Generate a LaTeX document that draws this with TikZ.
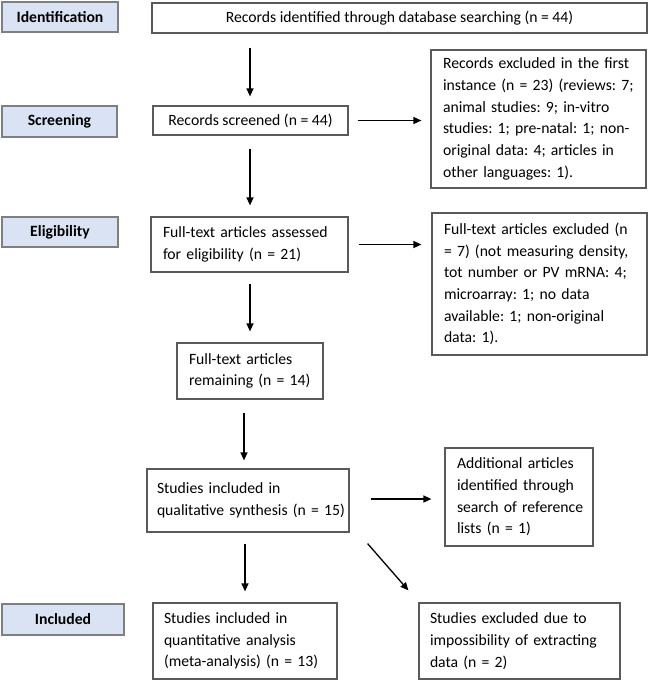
\documentclass[tikz,border=0pt]{standalone}
\usepackage{fontspec}
\setmainfont{Carlito}
\usetikzlibrary{arrows.meta,calc}
\definecolor{lblfill}{HTML}{DAE3F3}
\definecolor{lbldraw}{HTML}{7F7F7F}
\definecolor{boxdraw}{HTML}{5A5A5A}
\newcommand{\myline}[1]{\mbox{#1}}
\newcommand{\boxfont}{\fontsize{15.7}{21.7}\selectfont}
\frenchspacing
\hyphenpenalty=10000
\tikzset{
  lbl/.style={draw=lbldraw, fill=lblfill, line width=1.2pt, font=\boxfont\bfseries, inner sep=0pt, anchor=center},
  fbox/.style={draw=boxdraw, line width=1.2pt, font=\boxfont, inner sep=0pt, anchor=center},
  arr/.style={line width=1.3pt, -{Triangle[length=8pt,width=7pt]}},
}
\begin{document}
\begin{tikzpicture}[x=1pt,y=-1pt]
\useasboundingbox (0,0) rectangle (650,681);
% stage labels
\node[lbl, minimum width=116pt, minimum height=30pt] (lid) at (60,17) {Identification};
\node[lbl, minimum width=115pt, minimum height=31pt] (lscr) at (59.5,121.5) {Screening};
\node[lbl, minimum width=116pt, minimum height=30pt] (lel) at (60,232) {Eligibility};
\node[lbl, minimum width=122pt, minimum height=31pt] (linc) at (63,619.5) {Included};
% boxes
\node[fbox, minimum width=495pt, minimum height=30pt] (top) at (399.5,18) {Records identified through database searching (n = 44)};
\node[fbox, minimum width=195pt, minimum height=29pt] (scr) at (250.5,120.5) {Records screened (n = 44)};
\node[fbox, minimum width=215pt, minimum height=138pt, text width=191pt, align=left] (ex1) at (538.5,119)
  {\myline{Records excluded in the first}\\ \myline{instance (n = 23) (reviews: 7;}\\ \myline{animal studies: 9; in-vitro}\\ \myline{studies: 1; pre-natal: 1; non-}\\ \myline{original data: 4; articles in}\\ \myline{other languages: 1).}};
\node[fbox, minimum width=197pt, minimum height=55pt, text width=173pt, align=left] (el) at (249.5,244.5)
  {\myline{Full-text articles assessed}\\ \myline{for eligibility (n = 21)}};
\node[fbox, minimum width=215pt, minimum height=142pt, text width=191pt, align=left] (ex2) at (539.5,284)
  {\myline{Full-text articles excluded (n}\\ \myline{= 7) (not measuring density,}\\ \myline{tot number or PV mRNA: 4;}\\ \myline{microarray: 1; no data}\\ \myline{available: 1; non-original}\\ \myline{data: 1).}};
\node[fbox, minimum width=146pt, minimum height=56pt, text width=122pt, align=left] (rem) at (250,371)
  {\myline{Full-text articles}\\ \myline{remaining (n = 14)}};
\node[fbox, minimum width=202pt, minimum height=63pt, text width=182pt, align=left] (qual) at (248,500.5)
  {\myline{Studies included in}\\ \myline{qualitative synthesis (n = 15)}};
\node[fbox, minimum width=148pt, minimum height=98pt, text width=124pt, align=left] (add) at (519,497)
  {\myline{Additional articles}\\ \myline{identified through}\\ \myline{search of reference}\\ \myline{lists (n = 1)}};
\node[fbox, minimum width=184pt, minimum height=76pt, text width=162pt, align=left] (quant) at (245,641)
  {\myline{Studies included in}\\ \myline{quantitative analysis}\\ \myline{(meta-analysis) (n = 13)}};
\node[fbox, minimum width=201pt, minimum height=76pt, text width=179pt, align=left] (exd) at (519.5,641)
  {\myline{Studies excluded due to}\\ \myline{impossibility of extracting}\\ \myline{data (n = 2)}};
% arrow columns
\coordinate (c1) at (250,0);
\coordinate (c2) at (244,0);
\coordinate (c3) at (245,0);
\coordinate (d1) at ($(qual.south east)+(18,11)$);
\coordinate (d2) at ($(exd.north west)+(-10,-12)$);
% arrows
\draw[arr, shorten <=14pt, shorten >=9pt] (top.south -| c1) -- (scr.north -| c1);
\draw[arr, shorten <=9pt, shorten >=9pt] (scr.east) -- (scr.east -| ex1.west);
\draw[arr, shorten <=13pt, shorten >=11pt] (scr.south -| c1) -- (el.north -| c1);
\draw[arr, shorten <=10pt, shorten >=10pt] (el.east) -- (el.east -| ex2.west);
\draw[arr, shorten <=11pt, shorten >=11pt] (el.south -| c1) -- (rem.north -| c1);
\draw[arr, shorten <=13pt, shorten >=8pt] (rem.south -| c2) -- (qual.north -| c2);
\coordinate (q0) at ($(qual.east |- add.west)+(0,2)$);
\draw[arr, shorten <=21pt, shorten >=13pt] (q0) -- (q0 -| add.west);
\draw[arr, shorten <=11pt, shorten >=11pt] (qual.south -| c3) -- (quant.north -| c3);
\draw[arr] (d1) -- (d2);
\end{tikzpicture}
\end{document}
